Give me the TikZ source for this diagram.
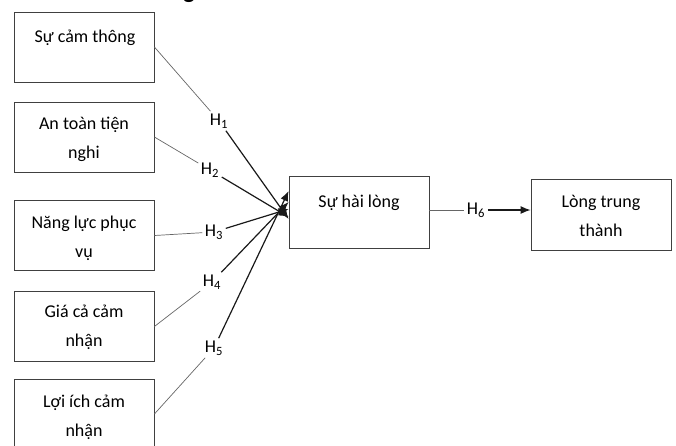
\documentclass[tikz,border=0pt]{standalone}
\usepackage{fontspec}
\setmainfont{Carlito}
\usetikzlibrary{arrows.meta}
\begin{document}
\begin{tikzpicture}[x=1pt,y=-1pt,
  box/.style={draw=black!75,line width=0.8pt,minimum width=140pt,minimum height=70pt,inner sep=0pt},
  txt/.style={anchor=north,inner sep=0pt,align=center,font=\fontsize{18pt}{29pt}\selectfont},
  hyp/.style={inner sep=2.5pt,font=\fontsize{18pt}{20pt}\selectfont},
  feed/.style={draw=black!60,line width=0.7pt},
  link/.style={draw=black!90,line width=1.2pt,-{Latex[length=10pt,width=8pt]}}
]
\useasboundingbox (0,0) rectangle (676,445);

% tail of the heading above the model
\node[anchor=base,inner sep=0pt,font=\fontsize{24pt}{26pt}\selectfont\bfseries] (ttl) at (189,-2) {g};

% factor boxes
\node[box] (b1) at (84,47) {};
\node[box] (b2) at (84,137) {};
\node[box] (b3) at (84,235.5) {};
\node[box] (b4) at (84,326.5) {};
\node[box] (b5) at (84,414) {};
\node[box,minimum height=72pt] (c) at (359,212) {};
\node[box,minimum height=71pt] (r) at (601,214.5) {};

% box texts (first baseline 17pt below the node top)
\node[txt] (t1) at (85,25) {\rule{0pt}{17pt}Sự cảm thông};
\node[txt] (t2) at (84,112) {\rule{0pt}{17pt}An toàn tiện\\nghi};
\node[txt] (t3) at (84,211) {\rule{0pt}{17pt}Năng lực phục\\vụ};
\node[txt] (t4) at (84,300) {\rule{0pt}{17pt}Giá cả cảm\\nhận};
\node[txt] (t5) at (84,390) {\rule{0pt}{17pt}Lợi ích cảm\\nhận};
\node[txt] (tc) at (359,190) {\rule{0pt}{17pt}Sự hài lòng};
\node[txt] (tr) at (601,190) {\rule{0pt}{17pt}Lòng trung\\thành};

% hypothesis labels
\node[hyp] (h1) at (219,121) {H\textsubscript{1}};
\node[hyp] (h2) at (210,170) {H\textsubscript{2}};
\node[hyp] (h3) at (214,232) {H\textsubscript{3}};
\node[hyp] (h4) at (212,282) {H\textsubscript{4}};
\node[hyp] (h5) at (214,348) {H\textsubscript{5}};
\node[hyp] (h6) at (476,210) {H\textsubscript{6}};

% connectors: factor -> label, label -> satisfaction
\draw[feed] (b1.east) -- (h1);
\draw[feed] (b2.east) -- (h2);
\draw[feed] (b3.east) -- (h3);
\draw[feed] (b4.east) -- (h4);
\draw[feed] (b5.east) -- (h5);
\draw[link] (h1) -- ([yshift=-7pt]c.west);
\draw[link] (h2) -- ([yshift=-5pt]c.west);
\draw[link] (h3) -- ([yshift=3pt]c.west);
\draw[link] (h4) -- ([yshift=10pt]c.west);
\draw[link] (h5) -- ([yshift=21pt]c.west);

% satisfaction -> loyalty
\draw[feed] (c.east |- h6) -- (h6);
\draw[link] (h6) -- (h6 -| r.west);
\end{tikzpicture}
\end{document}
